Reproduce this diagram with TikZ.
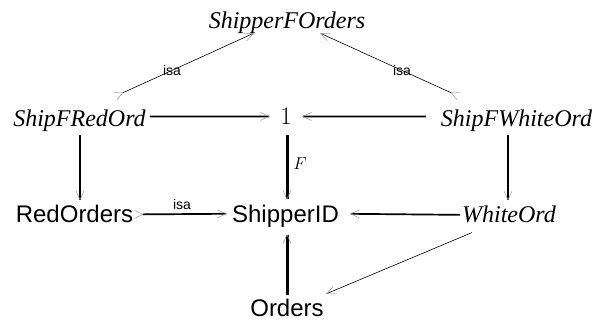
\documentclass[tikz,border=0pt]{standalone}
\usepackage{fontspec}
\setmainfont{Liberation Serif}
\setsansfont{Liberation Sans}
\usetikzlibrary{arrows.meta}
\tikzset{
  ital/.style={font=\fontsize{24}{24}\selectfont\itshape, inner sep=0pt, anchor=base},
  sans/.style={font=\fontsize{24}{24}\selectfont\sffamily, inner sep=0pt, anchor=base},
  mathnode/.style={font=\fontsize{24}{24}\selectfont, inner sep=0pt, anchor=base},
  lbl/.style={font=\fontsize{14}{14}\selectfont\sffamily, inner sep=0pt},
  flbl/.style={font=\fontsize{17}{17}\selectfont, inner sep=0pt},
  headarr/.style={-{Straight Barb[length=9pt 0,width=8pt 0,line width=0.5pt,color=black!40,sep=3pt]}},
  isaarr/.style={line width=0.6pt,
    {Straight Barb[reversed,length=8pt 0,width=8pt 0,line width=0.5pt,color=black!40]}-{Straight Barb[length=9pt 0,width=8pt 0,line width=0.5pt,color=black!40]}},
  thinarr/.style={line width=0.6pt, headarr},
  thk/.style={line width=1.7pt, headarr},
  vthk/.style={line width=3pt, headarr},
}
\begin{document}
\begin{tikzpicture}[x=1pt,y=1pt]
\useasboundingbox (0,0) rectangle (611,327);
% nodes
\node[ital] (sfo) at (287,298) {ShipperFOrders};
\node[ital] (sfr) at (79.5,200.3) {ShipFRedOrd};
\node[mathnode] (one) at (286,202) {$1$};
\node[ital] (sfw) at (516.5,200.3) {ShipFWhiteOrd};
\node[sans] (redo) at (74.5,104) {RedOrders};
\node[sans] (sid) at (285.5,104) {ShipperID};
\node[ital] (wo) at (509,104) {WhiteOrd};
\node[sans] (ord) at (287,10) {Orders};
% labels
\node[lbl] (l1) at (172,257) {isa};
\node[lbl] (l2) at (402,257) {isa};
\node[lbl] (l3) at (182,123) {isa};
\node[flbl] (lF) at (300,163) {$F$};
% isa edges
\draw[isaarr] ([xshift=35.5pt,yshift=13.5pt]sfr.north) -- ([xshift=-33pt,yshift=1.2pt]sfo.south);
\draw[isaarr] ([xshift=-57.5pt,yshift=13.5pt]sfw.north) -- ([xshift=33pt,yshift=1.2pt]sfo.south);
\draw[isaarr, line width=1.7pt] ([xshift=1pt]redo.east) -- ([xshift=-5pt,yshift=3pt]sid.west);
% thick edges
\draw[thk] ([xshift=4pt,yshift=4.4pt]sfr.east) -- ([xshift=-7pt,yshift=0.5pt]one.west);
\draw[thk] ([xshift=-15pt,yshift=4.4pt]sfw.west) -- ([xshift=7pt,yshift=0.5pt]one.east);
\draw[thk] ([xshift=0.5pt,yshift=-3pt]sfr.south) -- ([xshift=5.5pt,yshift=2pt]redo.north);
\draw[thk] ([xshift=-8.5pt,yshift=-3pt]sfw.south) -- ([xshift=-1pt,yshift=2.5pt]wo.north);
\draw[vthk] ([xshift=1pt,yshift=-10pt]one.south) -- ([xshift=1.5pt,yshift=2.5pt]sid.north);
\draw[thk] ([xshift=-1.7pt]wo.west) -- ([xshift=8pt,yshift=3pt]sid.east);
\draw[vthk] ([yshift=4.3pt]ord.north) -- ([xshift=1.5pt,yshift=-2.8pt]sid.south);
\draw[thinarr] ([xshift=-37pt,yshift=-9pt]wo.south) -- ([xshift=-0.7pt,yshift=4.3pt]ord.north east);
\end{tikzpicture}
\end{document}
